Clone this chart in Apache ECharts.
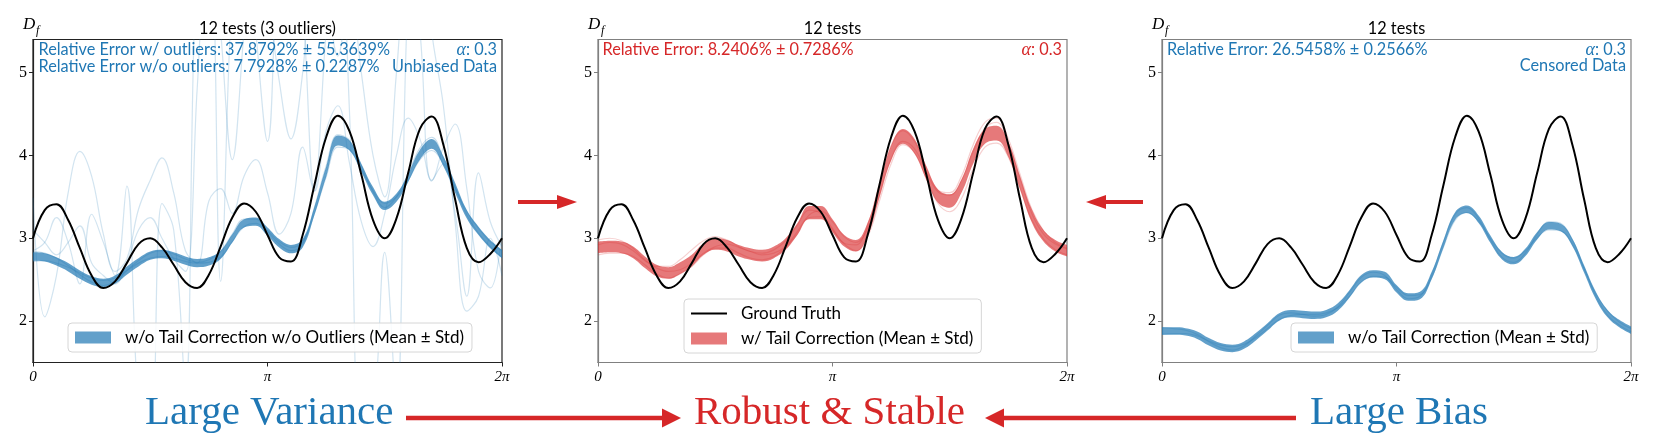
<!DOCTYPE html>
<html>
<head>
<meta charset="utf-8">
<title>Tail correction comparison</title>
<script src="https://cdn.jsdelivr.net/npm/echarts@6/dist/echarts.min.js"></script>
<style>
  html, body { margin: 0; padding: 0; background: #fff; }
  #chart { width: 1659px; height: 441px; }
</style>
</head>
<body>
<div id="chart"></div>
<script>
// x samples: 41 points over [0, 2pi]
const xs = Array.from({ length: 41 }, (_, i) => i * 2 * Math.PI / 40)
const xTickValues = [0, Math.PI, 2 * Math.PI]
const xTickLabels = ['0', 'π', '2π']
const yTickValues = [2, 3, 4, 5]

// ground truth D_f
const truth = [3.00, 3.34, 3.41, 3.22, 2.88, 2.55, 2.40, 2.48, 2.70, 2.93, 3.00, 2.89, 2.68, 2.47, 2.40, 2.56, 2.90, 3.25, 3.42, 3.32, 3.04, 2.77, 2.72, 3.04, 3.64, 4.22, 4.48, 4.29, 3.77, 3.22, 3.00, 3.24, 3.79, 4.32, 4.47, 4.13, 3.47, 2.88, 2.71, 2.81, 3.00]

// panel 1: unbiased data, no tail correction
const mean1 = [2.78, 2.77, 2.72, 2.65, 2.56, 2.49, 2.46, 2.50, 2.61, 2.71, 2.79, 2.81, 2.78, 2.73, 2.70, 2.72, 2.80, 3.00, 3.18, 3.20, 3.08, 2.94, 2.87, 2.94, 3.33, 3.80, 4.18, 4.12, 3.85, 3.57, 3.39, 3.49, 3.73, 4.01, 4.14, 3.93, 3.61, 3.29, 3.09, 2.93, 2.81]
const std1 = [0.05, 0.05, 0.05, 0.05, 0.05, 0.05, 0.05, 0.05, 0.05, 0.05, 0.05, 0.05, 0.05, 0.05, 0.05, 0.05, 0.05, 0.05, 0.05, 0.05, 0.05, 0.05, 0.05, 0.05, 0.05, 0.06, 0.06, 0.06, 0.05, 0.05, 0.05, 0.05, 0.05, 0.06, 0.06, 0.06, 0.06, 0.05, 0.05, 0.05, 0.05]
const test1a = [2.84, 2.82, 2.76, 2.67, 2.56, 2.47, 2.43, 2.48, 2.61, 2.73, 2.82, 2.85, 2.81, 2.75, 2.71, 2.74, 2.84, 3.05, 3.23, 3.23, 3.08, 2.93, 2.85, 2.93, 3.37, 3.87, 4.25, 4.18, 3.88, 3.56, 3.37, 3.50, 3.78, 4.09, 4.22, 3.97, 3.62, 3.28, 3.06, 2.90, 2.77]
const test1b = [2.72, 2.73, 2.70, 2.65, 2.58, 2.52, 2.49, 2.52, 2.61, 2.70, 2.76, 2.78, 2.76, 2.72, 2.70, 2.71, 2.77, 2.96, 3.14, 3.18, 3.09, 2.96, 2.89, 2.96, 3.30, 3.74, 4.10, 4.07, 3.83, 3.58, 3.42, 3.50, 3.70, 3.95, 4.06, 3.90, 3.61, 3.32, 3.12, 2.96, 2.85]
const outlier1 = [3.49, 2.05, 2.55, 3.55, 4.05, 3.75, 3.05, 2.60, 2.75, 3.35, 3.70, 3.97, 3.55, 2.85, 2.70, 3.45, 3.60, 3.30, 3.75, 3.95, 3.55, 3.05, 3.30, 4.10, 3.57, 4.30, 4.60, 3.90, 3.20, 2.90, 3.30, 4.00, 4.45, 4.20, 3.70, 4.10, 4.38, 3.60, 2.60, 2.40, 3.10]
const outlier2 = [2.85, 2.95, 3.25, 2.95, 2.45, 3.29, 2.95, 2.55, 3.63, 1.00, 0.50, 3.42, 3.10, 1.20, 6.50, 6.80, 2.48, 6.00, 7.00, 5.50, 4.17, 6.50, 7.00, 5.80, 3.57, 5.50, 7.00, 4.50, 0.50, 0.80, 2.83, 1.00, 6.00, 7.00, 5.50, 4.60, 3.20, 2.12, 2.30, 3.00, 2.55]
const outlier3 = [3.10, 2.95, 2.80, 2.95, 3.15, 2.70, 2.55, 2.45, 2.70, 3.10, 3.25, 3.00, 2.75, 2.60, 4.80, 7.00, 5.50, 3.95, 5.50, 7.00, 6.00, 4.90, 4.20, 5.00, 6.50, 6.00, 5.20, 6.00, 5.00, 4.00, 3.50, 5.00, 6.50, 5.50, 3.69, 3.90, 3.30, 2.30, 3.79, 3.20, 2.90]

// panel 2: with tail correction
const mean2 = [2.89, 2.90, 2.89, 2.83, 2.71, 2.61, 2.58, 2.64, 2.73, 2.87, 2.93, 2.91, 2.85, 2.81, 2.79, 2.83, 2.93, 3.11, 3.31, 3.31, 3.15, 2.97, 2.91, 3.11, 3.57, 4.03, 4.23, 4.11, 3.79, 3.51, 3.45, 3.63, 3.99, 4.23, 4.27, 4.07, 3.67, 3.27, 3.03, 2.91, 2.85]
const std2 = [0.07, 0.07, 0.07, 0.07, 0.07, 0.07, 0.07, 0.07, 0.07, 0.07, 0.07, 0.07, 0.07, 0.07, 0.07, 0.07, 0.07, 0.07, 0.08, 0.08, 0.08, 0.07, 0.07, 0.08, 0.08, 0.09, 0.09, 0.09, 0.08, 0.08, 0.08, 0.08, 0.09, 0.09, 0.09, 0.09, 0.08, 0.08, 0.07, 0.07, 0.07]
const test2a = [2.98, 3.00, 2.97, 2.88, 2.74, 2.66, 2.66, 2.74, 2.86, 2.97, 3.02, 2.98, 2.90, 2.84, 2.82, 2.86, 2.97, 3.16, 3.34, 3.30, 3.12, 2.94, 2.92, 3.16, 3.66, 4.12, 4.30, 4.17, 3.86, 3.58, 3.55, 3.75, 4.13, 4.40, 4.45, 4.20, 3.77, 3.35, 3.09, 2.95, 2.88]
const test2b = [2.80, 2.82, 2.82, 2.78, 2.68, 2.57, 2.52, 2.57, 2.66, 2.80, 2.88, 2.88, 2.82, 2.76, 2.74, 2.78, 2.89, 3.05, 3.25, 3.26, 3.10, 2.93, 2.85, 3.02, 3.45, 3.90, 4.13, 4.03, 3.72, 3.42, 3.32, 3.48, 3.84, 4.10, 4.15, 3.98, 3.60, 3.22, 2.99, 2.86, 2.80]
const test2c = [2.92, 2.95, 2.93, 2.85, 2.73, 2.64, 2.60, 2.62, 2.70, 2.82, 2.90, 2.93, 2.89, 2.84, 2.80, 2.82, 2.90, 3.08, 3.28, 3.33, 3.20, 3.02, 2.95, 3.12, 3.52, 3.96, 4.17, 4.08, 3.80, 3.56, 3.52, 3.70, 4.05, 4.33, 4.40, 4.15, 3.72, 3.30, 3.05, 2.93, 2.87]

// panel 3: censored data, no tail correction
const mean3 = [1.88, 1.88, 1.87, 1.83, 1.75, 1.69, 1.67, 1.71, 1.81, 1.93, 2.05, 2.09, 2.08, 2.07, 2.09, 2.17, 2.33, 2.51, 2.57, 2.55, 2.39, 2.29, 2.31, 2.55, 2.93, 3.27, 3.35, 3.23, 2.99, 2.79, 2.73, 2.83, 3.03, 3.15, 3.13, 2.95, 2.63, 2.31, 2.09, 1.97, 1.89]
const std3 = [0.045, 0.045, 0.045, 0.045, 0.045, 0.045, 0.045, 0.045, 0.045, 0.045, 0.045, 0.045, 0.045, 0.045, 0.045, 0.045, 0.045, 0.045, 0.045, 0.045, 0.045, 0.045, 0.045, 0.045, 0.045, 0.045, 0.045, 0.045, 0.045, 0.045, 0.045, 0.045, 0.045, 0.045, 0.045, 0.045, 0.045, 0.045, 0.045, 0.045, 0.045]
const test3a = [1.92, 1.91, 1.89, 1.84, 1.75, 1.68, 1.65, 1.70, 1.82, 1.95, 2.07, 2.10, 2.08, 2.06, 2.08, 2.17, 2.35, 2.53, 2.59, 2.55, 2.38, 2.27, 2.30, 2.56, 2.95, 3.29, 3.37, 3.24, 2.98, 2.77, 2.71, 2.82, 3.05, 3.20, 3.18, 2.98, 2.64, 2.30, 2.07, 1.95, 1.87]
const test3b = [1.84, 1.85, 1.85, 1.82, 1.76, 1.71, 1.69, 1.72, 1.80, 1.91, 2.02, 2.07, 2.08, 2.08, 2.10, 2.16, 2.30, 2.47, 2.54, 2.53, 2.41, 2.31, 2.32, 2.53, 2.89, 3.22, 3.31, 3.21, 3.00, 2.82, 2.76, 2.85, 3.01, 3.10, 3.09, 2.93, 2.63, 2.33, 2.12, 1.99, 1.91]

const BLUE = '#1f77b4'
const RED = '#d62728'
const SANS = 'Lato'
const SERIF = 'Liberation Serif'

const panels = [
  { left: 33, frame: '#222' },
  { left: 598, frame: '#808080' },
  { left: 1162, frame: '#808080' },
]
const gridTop = 39.5
const gridW = 469
const gridH = 323

function pts(arr) {
  return arr.map((v, i) => [xs[i], v])
}

function thin(gi, arr, color) {
  return {
    type: 'line', xAxisIndex: gi, yAxisIndex: gi, data: pts(arr),
    smooth: 0.4, symbol: 'none', silent: true, z: 1,
    lineStyle: { width: 1.2, color: color },
  }
}

// band = lower bound + (2 * std) stacked on it; value kept in dim 0 so the stack runs on y
function band(gi, mean, std, name, color) {
  return [
    {
      type: 'line', xAxisIndex: gi, yAxisIndex: gi, stack: 'band' + gi,
      data: mean.map((m, i) => [m - std[i], xs[i]]),
      encode: { x: 1, y: 0 },
      smooth: 0.4, symbol: 'none', silent: true,
      lineStyle: { width: 0, opacity: 0 },
    },
    {
      name: name, type: 'line', xAxisIndex: gi, yAxisIndex: gi, stack: 'band' + gi,
      data: std.map((s, i) => [2 * s, xs[i]]),
      encode: { x: 1, y: 0 },
      smooth: 0.4, symbol: 'none', z: 3,
      itemStyle: { color: color },
      lineStyle: { width: 0, opacity: 0 },
      areaStyle: { color: color, opacity: 1 },
    },
  ]
}

function truthLine(gi) {
  return {
    name: 'Ground Truth', type: 'line', xAxisIndex: gi, yAxisIndex: gi, data: pts(truth),
    smooth: 0.4, symbol: 'none', z: 5,
    itemStyle: { color: '#000' },
    lineStyle: { width: 2, color: '#000' },
  }
}

const series = [
  thin(0, outlier1, 'rgba(31,119,180,0.2)'),
  thin(0, outlier2, 'rgba(31,119,180,0.2)'),
  thin(0, outlier3, 'rgba(31,119,180,0.2)'),
  thin(0, test1a, 'rgba(31,119,180,0.25)'),
  thin(0, test1b, 'rgba(31,119,180,0.25)'),
  ...band(0, mean1, std1, 'w/o Tail Correction w/o Outliers (Mean ± Std)', 'rgba(31,119,180,0.7)'),
  truthLine(0),
  thin(1, test2a, 'rgba(214,39,40,0.22)'),
  thin(1, test2b, 'rgba(214,39,40,0.22)'),
  thin(1, test2c, 'rgba(214,39,40,0.22)'),
  ...band(1, mean2, std2, 'w/ Tail Correction (Mean ± Std)', 'rgba(214,39,40,0.62)'),
  truthLine(1),
  thin(2, test3a, 'rgba(31,119,180,0.25)'),
  thin(2, test3b, 'rgba(31,119,180,0.25)'),
  ...band(2, mean3, std3, 'w/o Tail Correction (Mean ± Std)', 'rgba(31,119,180,0.7)'),
  truthLine(2),
]

const grids = panels.map(p => ({
  left: p.left, top: gridTop, width: gridW, height: gridH,
  show: true, backgroundColor: '#fff', borderColor: p.frame, borderWidth: 1.2,
}))

const xAxes = panels.map((p, i) => ({
  gridIndex: i, type: 'value', min: 0, max: 2 * Math.PI,
  axisLine: { lineStyle: { color: p.frame, width: 1.2 } },
  axisTick: { customValues: xTickValues, length: 4, lineStyle: { color: p.frame } },
  axisLabel: {
    customValues: xTickValues, margin: 7, color: '#000',
    fontFamily: SERIF, fontSize: 15, fontStyle: 'italic',
    formatter: v => xTickLabels[Math.round(v / Math.PI)],
  },
  splitLine: { show: false },
}))

const yAxes = panels.map((p, i) => ({
  gridIndex: i, type: 'value', min: 1.5, max: 5.4,
  axisLine: { lineStyle: { color: p.frame, width: 1.2 } },
  axisTick: { customValues: yTickValues, length: 4, lineStyle: { color: p.frame } },
  axisLabel: {
    customValues: yTickValues, margin: 6, color: '#000',
    fontFamily: SERIF, fontSize: 16,
  },
  splitLine: { show: false },
}))

// thin black bar centred in a 36x12 box, for the ground-truth legend entry
const lineIcon = 'path://M0,0h36v0.01h-36z M0,5.1h36v1.9h-36z M0,12h36v0.01h-36z'

const legendBase = {
  selectedMode: false, itemWidth: 36, itemHeight: 12,
  backgroundColor: 'rgba(255,255,255,0.85)', borderColor: '#d6d6d6', borderWidth: 1, borderRadius: 4,
  padding: [6, 8, 6, 7],
  itemStyle: { borderWidth: 0 },
  textStyle: { fontFamily: SANS, fontSize: 17, color: '#000', padding: [0, 0, 0, 9] },
}
const legends = [
  Object.assign({}, legendBase, { left: 68, top: 323, data: [{ name: 'w/o Tail Correction w/o Outliers (Mean ± Std)', icon: 'rect' }] }),
  Object.assign({}, legendBase, {
    left: 684, top: 299, orient: 'vertical', itemGap: 8,
    data: [
      { name: 'Ground Truth', icon: lineIcon, itemStyle: { color: '#000' } },
      { name: 'w/ Tail Correction (Mean ± Std)', icon: 'rect' },
    ],
  }),
  Object.assign({}, legendBase, { left: 1291, top: 323, data: [{ name: 'w/o Tail Correction (Mean ± Std)', icon: 'rect' }] }),
]

function txt(x, y, text, font, fill, align, extra) {
  return {
    type: 'text', x: x, y: y, z: 100, silent: true,
    style: Object.assign({
      text: text, font: font, fill: fill,
      textAlign: align, align: align, textVerticalAlign: 'middle', verticalAlign: 'middle',
    }, extra || {}),
  }
}

function alphaText(x, y, fill) {
  return txt(x, y, '{a|α}: 0.3', '16.3px ' + SANS, fill, 'right', {
    rich: { a: { fontFamily: SERIF, fontStyle: 'italic', fontSize: 18, fill: fill } },
  })
}

function dfLabel(x) {
  return [
    txt(x, 25, 'D', 'italic 17px "' + SERIF + '"', '#000', 'left'),
    txt(x + 13, 31, 'f', 'italic 12px "' + SERIF + '"', '#000', 'left'),
  ]
}

function arrow(x1, x2, y, head, half, w, color) {
  const dir = x2 > x1 ? 1 : -1
  const base = x2 - dir * head
  return [
    { type: 'line', z: 100, silent: true, shape: { x1: x1, y1: y, x2: base + dir, y2: y }, style: { stroke: color, lineWidth: w } },
    { type: 'polygon', z: 100, silent: true, shape: { points: [[x2, y], [base, y - half], [base, y + half]] }, style: { fill: color } },
  ]
}

const sans = '16.3px ' + SANS
const bigSerif = '41px "' + SERIF + '"'
const graphics = [
  txt(267.5, 29, '12 tests (3 outliers)', sans, '#000', 'center'),
  txt(832.5, 29, '12 tests', sans, '#000', 'center'),
  txt(1396.5, 29, '12 tests', sans, '#000', 'center'),
  ...dfLabel(23), ...dfLabel(588), ...dfLabel(1152),
  txt(38.5, 50, 'Relative Error w/ outliers: 37.8792% ± 55.3639%', sans, BLUE, 'left'),
  txt(38.5, 67, 'Relative Error w/o outliers: 7.7928% ± 0.2287%', sans, BLUE, 'left'),
  alphaText(497, 50, BLUE),
  txt(497, 67, 'Unbiased Data', sans, BLUE, 'right'),
  txt(602.5, 50, 'Relative Error: 8.2406% ± 0.7286%', sans, RED, 'left'),
  alphaText(1062, 50, RED),
  txt(1167, 50, 'Relative Error: 26.5458% ± 0.2566%', sans, BLUE, 'left'),
  alphaText(1626, 50, BLUE),
  txt(1626, 66, 'Censored Data', sans, BLUE, 'right'),
  ...arrow(518, 577, 202, 20, 7, 4, RED),
  ...arrow(1143, 1086, 202, 20, 7, 4, RED),
  ...arrow(406, 681, 418, 19, 9.5, 4.5, RED),
  ...arrow(1296, 985, 418, 19, 9.5, 4.5, RED),
  txt(145, 413, 'Large Variance', bigSerif, BLUE, 'left'),
  txt(694, 413, 'Robust & Stable', bigSerif, RED, 'left'),
  txt(1310, 413, 'Large Bias', bigSerif, BLUE, 'left'),
]

const chart = echarts.init(document.getElementById('chart'))
chart.setOption({
  animation: false,
  backgroundColor: '#fff',
  grid: grids,
  xAxis: xAxes,
  yAxis: yAxes,
  legend: legends,
  series: series,
  graphic: { elements: graphics },
})
</script>
</body>
</html>
